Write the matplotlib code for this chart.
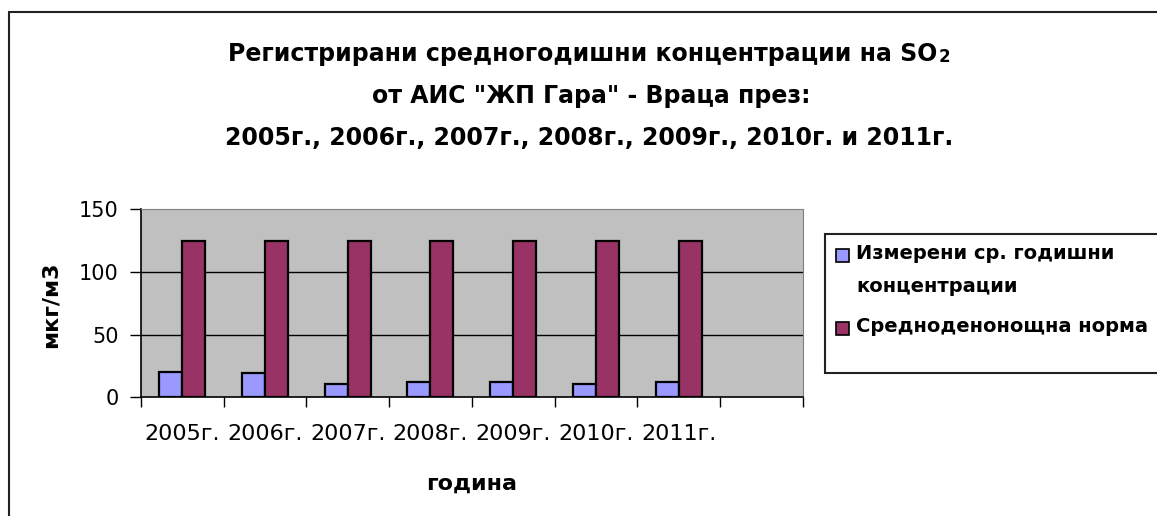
import matplotlib
matplotlib.use("Agg")
import matplotlib.pyplot as plt
from matplotlib.patches import Rectangle
import numpy as np

# data
years = ["2005г.", "2006г.", "2007г.", "2008г.", "2009г.", "2010г.", "2011г."]
measured = [20.5, 19, 11, 12.5, 12.5, 11, 12.5]
norm = [125, 125, 125, 125, 125, 125, 125]
series_names = ["Измерени ср. годишни\nконцентрации", "Средноденонощна норма"]
yticks = [0, 50, 100, 150]

title_lines = [
    "Регистрирани средногодишни концентрации на SO",
    "от АИС \"ЖП Гара\" - Враца през:",
    "2005г., 2006г., 2007г., 2008г., 2009г., 2010г. и 2011г.",
]

blue = "#9999FF"
maroon = "#993366"
W, H = 1157, 516

plt.rcParams["font.family"] = ["DejaVu Sans"]

fig = plt.figure(figsize=(W / 100, H / 100), dpi=100)


def fx(px):
    return px / W


def fy(py):
    return 1 - py / H


# outer chart border (runs off the right and bottom of the picture)
fig.patches.append(Rectangle((fx(8.5), -0.05), 1.1, fy(12) + 0.05, transform=fig.transFigure,
                             fill=False, edgecolor="#222222", lw=1.5))

ax = fig.add_axes([fx(141), fy(397.3), fx(802.7) - fx(141), fy(209.3) - fy(397.3)])
ax.set_facecolor("#C0C0C0")

n_slots = len(years) + 1  # excel left an empty category at the end
x = np.arange(len(years)) + 0.5
bw = 0.278
ax.bar(x - bw / 2, measured, bw, color=blue, edgecolor="black", lw=1.6, zorder=3)
ax.bar(x + bw / 2, norm, bw, color=maroon, edgecolor="black", lw=1.6, zorder=3)

ax.set_xlim(0, n_slots)
ax.set_ylim(0, 150)
ax.set_yticks(yticks)
ax.tick_params(axis="y", length=8, width=1, pad=8, labelsize=15)
ax.set_xticks(range(n_slots + 1))
ax.set_xticklabels([])
ax.tick_params(axis="x", which="major", length=7, width=1)
ax.set_xticks(x, minor=True)
ax.set_xticklabels(years, minor=True, fontsize=16)
ax.tick_params(axis="x", which="minor", length=0, pad=19)
for yv in yticks[1:-1]:
    ax.axhline(yv, color="black", lw=1, zorder=1)
ax.spines["top"].set_color("#808080")
ax.spines["right"].set_color("#808080")
ax.spines["left"].set_linewidth(1.2)
ax.spines["bottom"].set_linewidth(1.2)

# title
t1 = fig.text(fx(583), fy(61), title_lines[0], ha="center", va="baseline",
              fontsize=17, fontweight="bold")
ax.annotate("2", xy=(1, 0), xycoords=t1, xytext=(1, 0), textcoords="offset points",
            ha="left", va="bottom", fontsize=12, fontweight="bold")
fig.text(fx(591), fy(103), title_lines[1], ha="center", va="baseline", fontsize=17, fontweight="bold")
fig.text(fx(589), fy(145), title_lines[2], ha="center", va="baseline", fontsize=17, fontweight="bold")

# axis titles
fig.text(fx(51), fy(305), "мкг/м3", rotation=90, ha="center", va="center",
         fontsize=16, fontweight="bold")
fig.text(fx(472), fy(490), "година", ha="center", va="baseline", fontsize=16, fontweight="bold")

# legend drawn by hand, the box is cut by the edge of the picture
fig.patches.append(Rectangle((fx(825), fy(373)), 1, fy(234) - fy(373), transform=fig.transFigure,
                             fill=True, facecolor="white", edgecolor="#222222", lw=1.5))
first = series_names[0].split("\n")
fig.patches.append(Rectangle((fx(836), fy(262)), fx(13) - fx(0), fy(249) - fy(262),
                             transform=fig.transFigure, facecolor=blue, edgecolor="black", lw=1.2))
fig.text(fx(856), fy(259), first[0], ha="left", va="baseline", fontsize=14, fontweight="bold")
fig.text(fx(856), fy(292), first[1], ha="left", va="baseline", fontsize=14, fontweight="bold")
fig.patches.append(Rectangle((fx(836), fy(335)), fx(13) - fx(0), fy(322) - fy(335),
                             transform=fig.transFigure, facecolor=maroon, edgecolor="black", lw=1.2))
fig.text(fx(856), fy(332), series_names[1], ha="left", va="baseline", fontsize=14, fontweight="bold")

fig.savefig("out.png", dpi=100)
